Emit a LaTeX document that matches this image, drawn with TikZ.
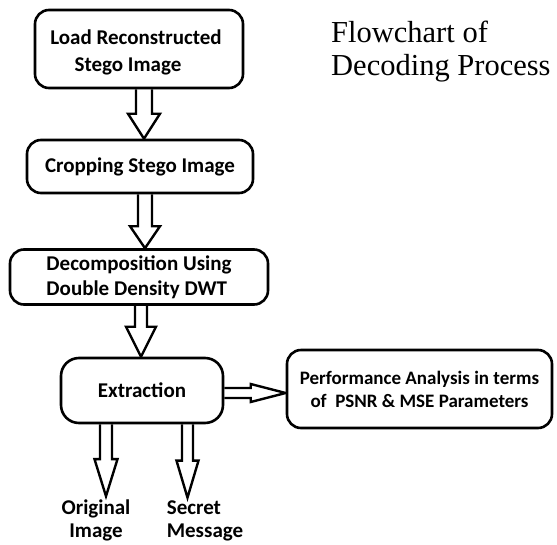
\documentclass[tikz,border=0pt]{standalone}
\usepackage{fontspec}
\setmainfont{Liberation Serif}
\newfontfamily\boxfont{Carlito}
\usetikzlibrary{calc}
\pgfdeclarelayer{background}
\pgfsetlayers{background,main}
\tikzset{
  x=1pt, y=-1pt,
  stage/.style={draw, line width=2.6pt, rounded corners=14pt, fill=white,
    font=\boxfont\bfseries\fontsize{21}{27}\selectfont, align=center, inner sep=0pt},
  blockarrow/.style={draw, line width=2.4pt, fill=white, line join=miter},
  outlabel/.style={font=\boxfont\bfseries\fontsize{21}{23}\selectfont, inner sep=3pt},
}
% hollow block arrow pointing down: from node, to node, x, shaft half width, head half width, head length
\newcommand\downblock[6]{%
  \draw[blockarrow] let \p1=(#1.south -| #3,0), \p2=(#2.north -| #3,0) in
    (\x1-#4pt,\y1) -- (\x1-#4pt,\y2+#6pt) -- (\x1-#5pt,\y2+#6pt) -- (\x2,\y2)
    -- (\x1+#5pt,\y2+#6pt) -- (\x1+#4pt,\y2+#6pt) -- (\x1+#4pt,\y1);}
% hollow block arrow pointing right: from node, to node, y, shaft half width, head half width, head length
\newcommand\rightblock[6]{%
  \draw[blockarrow] let \p1=(#1.east |- 0,#3), \p2=(#2.west |- 0,#3) in
    (\x1,\y1+#4pt) -- (\x2-#6pt,\y1+#4pt) -- (\x2-#6pt,\y1+#5pt) -- (\x2,\y2)
    -- (\x2-#6pt,\y1-#5pt) -- (\x2-#6pt,\y1-#4pt) -- (\x1,\y1-#4pt);}
\begin{document}
\begin{tikzpicture}
\useasboundingbox (0,0) rectangle (557,544);

\node[stage, minimum width=208, minimum height=78] (load) at (139,49) {};
\node[inner sep=0pt, align=center, font=\boxfont\bfseries\fontsize{21}{27}\selectfont]
  (loadtext) at (136,52) {Load Reconstructed\\Stego Image\hspace*{16pt}};
\node[stage, minimum width=226, minimum height=53] (crop) at (140,166.5)
  {Cropping Stego Image};
\node[stage, minimum width=258, minimum height=55, align=left,
  font=\boxfont\bfseries\fontsize{21}{25}\selectfont] (decomp) at (139,277)
  {Decomposition Using\\Double Density DWT};
\node[stage, rounded corners=18pt, minimum width=162, minimum height=65] (extr) at (142,390.5)
  {Extraction};
\node[stage, minimum width=265, minimum height=78,
  font=\boxfont\bfseries\fontsize{19}{23}\selectfont] (perf) at (419.5,389)
  {Performance Analysis in terms\\of~ PSNR \& MSE Parameters};

\node[outlabel, align=center] (orig) at (96,520) {Original\\Image};
\node[outlabel, align=left] (secret) at (205,521) {Secret\\Message};

\node[anchor=west, inner sep=0pt, align=left, font=\fontsize{30.5}{33}\selectfont] (title)
  at (331,52) {Flowchart of\\Decoding Process};

\begin{pgfonlayer}{background}
  \downblock{load}{crop}{144}{8}{16}{25}
  \downblock{crop}{decomp}{145}{7}{15}{22}
  \downblock{decomp}{extr}{141}{6}{15}{30}
  \downblock{extr}{orig}{106}{6}{11.5}{37}
  \downblock{extr}{secret}{187.5}{5.5}{11}{37}
  \rightblock{extr}{perf}{393}{5}{9}{35}
\end{pgfonlayer}
\end{tikzpicture}
\end{document}
